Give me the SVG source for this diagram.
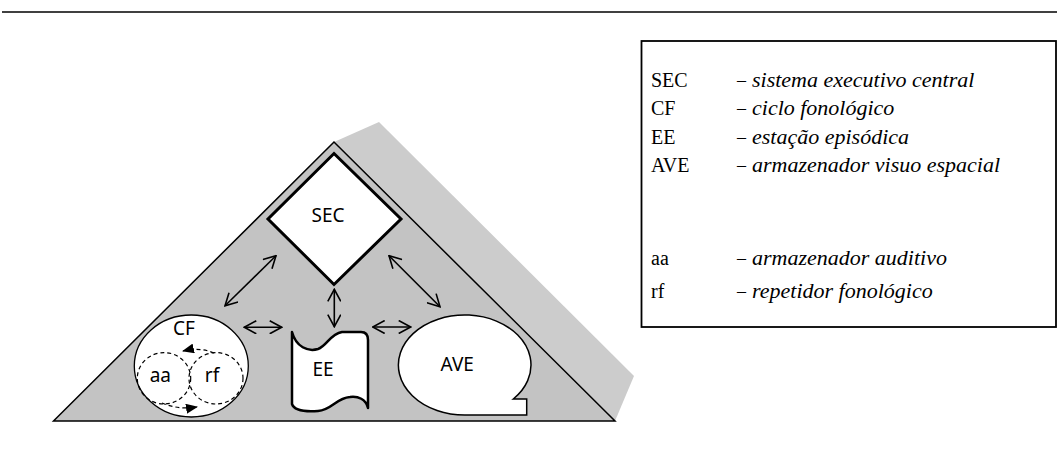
<svg xmlns="http://www.w3.org/2000/svg" width="1057" height="464" viewBox="0 0 1057 464">
<style>
.lbl{font-family:"Noto Sans","Open Sans",sans-serif;font-size:19px;fill:#000;text-anchor:middle}
.leg{font-family:"Liberation Serif","Times New Roman",serif;font-size:20px;fill:#000}
.dsh{font-family:"Liberation Serif","Times New Roman",serif;font-size:18px;fill:#000}
.legi{font-family:"Liberation Serif","Times New Roman",serif;font-size:22px;font-style:italic;fill:#000}
.arr{stroke:#000;stroke-width:1.6;fill:none;marker-start:url(#v);marker-end:url(#v)}
.dash{stroke:#000;stroke-width:1.2;fill:none;stroke-dasharray:4 3}
</style>
<defs>
<marker id="v" viewBox="0 0 14 14" refX="13" refY="7" markerWidth="14" markerHeight="14" markerUnits="userSpaceOnUse" orient="auto-start-reverse">
<path d="M1,0.5 L13,7 L1,13.5" fill="none" stroke="#000" stroke-width="1.6"/>
</marker>
<marker id="f" viewBox="0 0 12 10" refX="11" refY="5" markerWidth="12" markerHeight="10" markerUnits="userSpaceOnUse" orient="auto">
<path d="M0,0 L12,5 L0,10 Z" fill="#000"/>
</marker>
</defs>
<line x1="2" y1="12" x2="1057" y2="12" stroke="#000" stroke-width="1.5"/>
<g id="pyramid">
<polygon points="334,142 379,122 634,376 615,421" fill="#cccccc"/>
<polygon points="53.5,421 334,142 615,421" fill="#c3c3c3" stroke="#000" stroke-width="1.5"/>
</g>
<g id="SEC">
<polygon points="334,153.5 401,219 334,284.5 268,219" fill="#fff" stroke="#000" stroke-width="3"/>
<text class="lbl" x="328" y="222">SEC</text>
</g>
<g id="CF">
<ellipse cx="191.3" cy="366" rx="57" ry="51" fill="#fff" stroke="#000" stroke-width="1.3"/>
<text class="lbl" x="184" y="334.5">CF</text>
</g>
<g id="aa">
<ellipse cx="164" cy="378.3" rx="26.7" ry="25.7" class="dash"/>
<text class="lbl" x="160.3" y="382">aa</text>
</g>
<g id="rf">
<ellipse cx="216" cy="378.3" rx="27" ry="25.7" class="dash"/>
<text class="lbl" x="212" y="382">rf</text>
</g>
<g id="EE">
<path d="M292,332 C296,347 308,352 318,349 C327,346 330,334 342,332 L361,332 Q368,332 368,340 L368,408 C366,399 358,396 350,397 C336,398 332,410 318,411 C304,412 294,410 292,404 Z" fill="#fff" stroke="#000" stroke-width="2.5" stroke-linejoin="round"/>
<text class="lbl" x="323" y="376">EE</text>
</g>
<g id="AVE">
<path d="M513.3,399 L526.7,399 L526.7,415 L464.7,415 A66.3,50 0 1 1 513.3,399 Z" fill="#fff" stroke="#000" stroke-width="1.5"/>
<text class="lbl" x="457.2" y="370.7">AVE</text>
</g>
<g id="connectors">
<line class="arr" x1="276" y1="255.7" x2="225" y2="305.7"/>
<line class="arr" x1="389" y1="255.7" x2="440" y2="306.7"/>
<line class="arr" x1="334.3" y1="289.3" x2="334.3" y2="326.7"/>
<line class="arr" x1="244.3" y1="327.3" x2="281.7" y2="327.3"/>
<line class="arr" x1="372.7" y1="327" x2="410.7" y2="327"/>
<path class="dash" d="M214,353 Q200,347 183,351" marker-end="url(#f)"/>
<path class="dash" d="M162,403 Q178,410 197,407" marker-end="url(#f)"/>
</g>
<g id="legend">
<rect x="641.5" y="41" width="414.5" height="286" fill="#fff" stroke="#000" stroke-width="1.8"/>
<text class="leg" x="651" y="87">SEC</text><text class="dsh" x="737" y="86">–</text><text class="legi" x="752" y="87">sistema executivo central</text>
<text class="leg" x="651" y="115">CF</text><text class="dsh" x="737" y="114">–</text><text class="legi" x="752" y="115">ciclo fonológico</text>
<text class="leg" x="651" y="143.5">EE</text><text class="dsh" x="737" y="142.5">–</text><text class="legi" x="752" y="143.5">estação episódica</text>
<text class="leg" x="651" y="172">AVE</text><text class="dsh" x="737" y="171">–</text><text class="legi" x="752" y="172">armazenador visuo espacial</text>
<text class="leg" x="651" y="265">aa</text><text class="dsh" x="737" y="264">–</text><text class="legi" x="752" y="265">armazenador auditivo</text>
<text class="leg" x="651" y="298">rf</text><text class="dsh" x="737" y="297">–</text><text class="legi" x="752" y="298">repetidor fonológico</text>
</g>
</svg>
